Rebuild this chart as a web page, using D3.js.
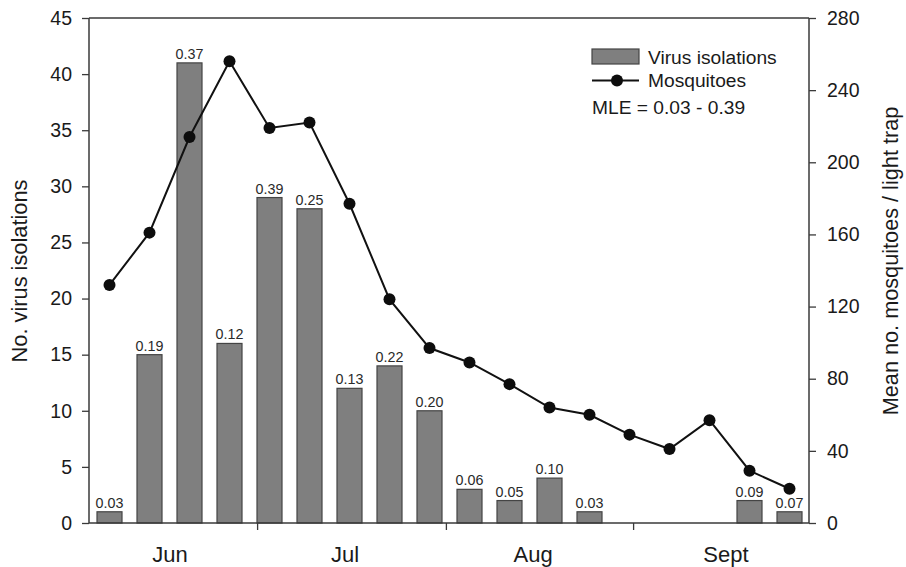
<!DOCTYPE html>
<html>
<head>
<meta charset="utf-8">
<script src="https://cdn.jsdelivr.net/npm/d3@7"></script>
<style>
  html, body { margin: 0; padding: 0; background: #fff; }
  svg { display: block; font-family: Arial, "Liberation Sans", sans-serif; }
</style>
</head>
<body>
<svg id="chart" width="906" height="567"></svg>
<script>
// Weekly sampling periods, June through September
const weeks = d3.range(18);
const isolations = [1, 15, 41, 16, 29, 28, 12, 14, 10, 3, 2, 4, 1, 0, 0, 0, 2, 1];
const mleLabels = ["0.03", "0.19", "0.37", "0.12", "0.39", "0.25", "0.13", "0.22", "0.20",
                   "0.06", "0.05", "0.10", "0.03", null, null, null, "0.09", "0.07"];
const mosquitoes = [132, 161, 214, 256, 219, 222, 177, 124, 97, 89, 77, 64, 60, 49, 41, 57, 29, 19];

const leftTicks = [0, 5, 10, 15, 20, 25, 30, 35, 40, 45];
const rightTicks = [0, 40, 80, 120, 160, 200, 240, 280];
const monthNames = ["Jun", "Jul", "Aug", "Sept"];
const monthLabelAt = [1.51, 5.89, 10.59, 15.41];  // in week units
const monthBreaks = [3.69, 8.41, 13.09];          // month boundaries, in week units

const svg = d3.select("#chart");
const plot = { left: 89, right: 809, top: 18, bottom: 523 };
const axisColor = "#3a3a3a";
const textColor = "#1a1a1a";

const x = d3.scaleBand().domain(weeks).range([plot.left + 0.5, plot.right + 0.5]).paddingInner(0.375).paddingOuter(0.1875);
const xc = d3.scaleLinear().domain([0, 17]).range([x(0) + x.bandwidth() / 2, x(17) + x.bandwidth() / 2]);
const yL = d3.scaleLinear().domain([0, 45]).range([plot.bottom, plot.top]);
const yR = d3.scaleLinear().domain([0, 280]).range([plot.bottom, plot.top]);

// Bars: virus isolations
svg.append("g").selectAll("rect")
  .data(weeks.filter(i => isolations[i] > 0))
  .join("rect")
  .attr("x", i => x(i))
  .attr("y", i => yL(isolations[i]))
  .attr("width", x.bandwidth())
  .attr("height", i => yL(0) - yL(isolations[i]))
  .attr("fill", "#7f7f7f")
  .attr("stroke", "#444")
  .attr("stroke-width", 1.2);

// MLE labels over bars
svg.append("g").selectAll("text")
  .data(weeks.filter(i => mleLabels[i] !== null))
  .join("text")
  .attr("x", i => xc(i))
  .attr("y", i => yL(isolations[i]) - 4)
  .attr("text-anchor", "middle")
  .attr("font-size", 14.3)
  .attr("fill", "#2a2a2a")
  .text(i => mleLabels[i]);

// Mosquito line
const line = d3.line().x(i => xc(i)).y(i => yR(mosquitoes[i]));
svg.append("path")
  .datum(weeks)
  .attr("d", line)
  .attr("fill", "none")
  .attr("stroke", "#111")
  .attr("stroke-width", 2);
svg.append("g").selectAll("circle")
  .data(weeks)
  .join("circle")
  .attr("cx", i => xc(i))
  .attr("cy", i => yR(mosquitoes[i]))
  .attr("r", 6)
  .attr("fill", "#0d0d0d");

// Axes
const gL = svg.append("g").attr("transform", `translate(${plot.left},0)`)
  .call(d3.axisLeft(yL).tickValues(leftTicks).tickSize(7).tickPadding(10));
const gR = svg.append("g").attr("transform", `translate(${plot.right},0)`)
  .call(d3.axisRight(yR).tickValues(rightTicks).tickSize(7).tickPadding(11));
[gL, gR].forEach(g => {
  g.selectAll("path").attr("stroke", axisColor).attr("stroke-width", 1.5);
  g.selectAll("line").attr("stroke", axisColor).attr("stroke-width", 1.3);
  g.selectAll("text").attr("font-size", 19.5).attr("fill", textColor)
    .attr("font-family", "Arial, 'Liberation Sans', sans-serif");
});
gL.select(".domain").attr("d", `M0,${plot.top}V${plot.bottom}`);
gR.select(".domain").attr("d", `M0,${plot.top}V${plot.bottom}`);

// Top frame line
svg.append("line")
  .attr("x1", plot.left).attr("x2", plot.right).attr("y1", plot.top).attr("y2", plot.top)
  .attr("stroke", axisColor).attr("stroke-width", 1.5);

// Bottom axis with month boundary ticks
const gB = svg.append("g").attr("transform", `translate(0,${plot.bottom})`)
  .call(d3.axisBottom(xc).tickValues(monthBreaks).tickSize(7).tickFormat(""));
gB.select(".domain").attr("d", `M${plot.left},0H${plot.right}`).attr("stroke", axisColor).attr("stroke-width", 1.5);
gB.selectAll("line").attr("stroke", axisColor).attr("stroke-width", 1.3);

svg.append("g").selectAll("text")
  .data(monthNames)
  .join("text")
  .attr("x", (d, i) => xc(monthLabelAt[i]))
  .attr("y", 562)
  .attr("text-anchor", "middle")
  .attr("font-size", 22)
  .attr("fill", textColor)
  .text(d => d);

// Axis titles
svg.append("text")
  .attr("transform", `translate(27,271) rotate(-90)`)
  .attr("text-anchor", "middle")
  .attr("font-size", 21.8)
  .attr("fill", textColor)
  .text("No. virus isolations");
svg.append("text")
  .attr("transform", `translate(898,261) rotate(-90)`)
  .attr("text-anchor", "middle")
  .attr("font-size", 21.7)
  .attr("fill", textColor)
  .text("Mean no. mosquitoes / light trap");

// Legend
const lg = svg.append("g");
lg.append("rect")
  .attr("x", 592).attr("y", 49).attr("width", 47).attr("height", 15)
  .attr("fill", "#7f7f7f").attr("stroke", "#444").attr("stroke-width", 1.2);
lg.append("text").attr("x", 648).attr("y", 63.5).attr("font-size", 19.2).attr("fill", textColor)
  .text("Virus isolations");
lg.append("line").attr("x1", 592).attr("x2", 639).attr("y1", 80.5).attr("y2", 80.5)
  .attr("stroke", "#111").attr("stroke-width", 2);
lg.append("circle").attr("cx", 617).attr("cy", 80.5).attr("r", 6).attr("fill", "#0d0d0d");
lg.append("text").attr("x", 648).attr("y", 87).attr("font-size", 19.2).attr("fill", textColor)
  .text("Mosquitoes");
lg.append("text").attr("x", 592).attr("y", 113.5).attr("font-size", 19.2).attr("fill", textColor)
  .text("MLE = 0.03 - 0.39");
</script>
</body>
</html>
